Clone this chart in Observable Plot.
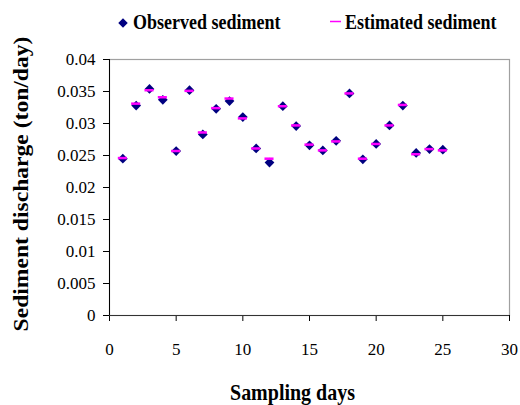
<!DOCTYPE html>
<html>
<head>
<meta charset="utf-8">
<script src="https://cdn.jsdelivr.net/npm/d3@7"></script>
<script src="https://cdn.jsdelivr.net/npm/@observablehq/plot@0.6"></script>
<style>
  html, body { margin: 0; padding: 0; background: #fff; }
  #chart { position: relative; width: 520px; height: 405px; overflow: hidden; }
</style>
</head>
<body>
<div id="chart"></div>
<script>
// Data
const days = [1,2,3,4,5,6,7,8,9,10,11,12,13,14,15,16,17,18,19,20,21,22,23,24,25];
const observed = [0.0245,0.0328,0.0354,0.0337,0.0257,0.0352,0.0283,0.0323,0.0335,0.0310,0.0261,0.0239,0.0327,0.0296,0.0266,0.0258,0.0273,0.0347,0.0244,0.0268,0.0297,0.0328,0.0254,0.0260,0.0259];
const estimated = [0.0246,0.0331,0.0352,0.0341,0.0257,0.0351,0.0286,0.0324,0.0339,0.0308,0.0261,0.0245,0.0327,0.0297,0.0267,0.0258,0.0272,0.0347,0.0245,0.0268,0.0297,0.0329,0.0252,0.0260,0.0258];
const xTicks = [0,5,10,15,20,25,30];
const yTicks = [0,0.005,0.01,0.015,0.02,0.025,0.03,0.035,0.04];
const yTickLabels = ["0","0.005","0.01","0.015","0.02","0.025","0.03","0.035","0.04"];
const seriesNames = ["Observed sediment","Estimated sediment"];
const xTitle = "Sampling days";
const yTitle = "Sediment discharge (ton/day)";

const rows = days.map((d, i) => ({day: d, obs: observed[i], est: estimated[i]}));
const obsColor = "#000080";
const estColor = "#ff00ff";
const serif = "Liberation Serif";

const plot = Plot.plot({
  width: 520,
  height: 405,
  marginLeft: 109,
  marginRight: 11,
  marginTop: 59,
  marginBottom: 90,
  style: {fontFamily: serif, fontSize: "17px", background: "#fff", color: "#000"},
  x: {domain: [0, 30], ticks: xTicks},
  y: {domain: [0, 0.04], ticks: yTicks},
  marks: [
    Plot.frame({stroke: "#a0a0a0", strokeWidth: 1.2}),
    Plot.axisX({ticks: xTicks, tickSize: 6, tickPadding: 21, label: null, fontSize: 17, fontFamily: serif, stroke: "#000"}),
    Plot.axisY({ticks: yTicks, tickSize: 6, tickPadding: 8, label: null, fontSize: 17, fontFamily: serif, stroke: "#000",
      tickFormat: d => yTickLabels[yTicks.indexOf(d)]}),
    Plot.ruleY([0], {stroke: "#333", strokeWidth: 1.2}),
    Plot.ruleX([0], {stroke: "#000", strokeWidth: 1}),
    Plot.dot(rows, {x: "day", y: "obs", symbol: "diamond2", r: 4.4, fill: obsColor, stroke: "none"}),
    Plot.ruleY(rows, {y: "est", x1: d => d.day - 0.34, x2: d => d.day + 0.34, stroke: estColor, strokeWidth: 2.5})
  ]
});

document.getElementById("chart").appendChild(plot);
const svg = d3.select(plot);
svg.selectAll("text").attr("font-family", serif).style("font-family", serif).style("font-size", "17px").attr("fill", "#000");

// Titles and legend (text is slightly stretched vertically like the reference)
const g = svg.append("g").attr("font-family", serif).attr("font-weight", "bold").attr("fill", "#000");

g.append("text")
  .attr("transform", "translate(28,184) rotate(-90) scale(1.18,1)")
  .attr("text-anchor", "middle")
  .attr("font-size", 20)
  .text(yTitle);

g.append("text")
  .attr("transform", "translate(292.5,400) scale(1,1.18)")
  .attr("text-anchor", "middle")
  .attr("font-size", 20)
  .text(xTitle);

// legend
g.append("path")
  .attr("transform", "translate(123,23)")
  .attr("d", d3.symbol(d3.symbolDiamond2, 58)())
  .attr("fill", obsColor);
g.append("text")
  .attr("transform", "translate(133,29) scale(1,1.18)")
  .attr("text-anchor", "start")
  .attr("font-size", 18)
  .text(seriesNames[0]);
g.append("line")
  .attr("x1", 330).attr("x2", 341).attr("y1", 21.5).attr("y2", 21.5)
  .attr("stroke", estColor).attr("stroke-width", 1.5);
g.append("text")
  .attr("transform", "translate(345,29) scale(1,1.18)")
  .attr("text-anchor", "start")
  .attr("font-size", 18)
  .text(seriesNames[1]);
</script>
</body>
</html>
